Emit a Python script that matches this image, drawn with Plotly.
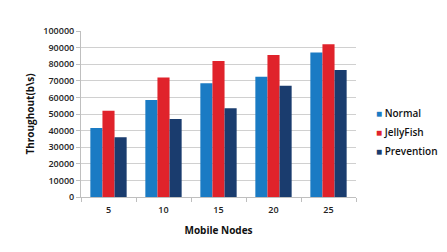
import plotly.graph_objects as go

categories = ["5", "10", "15", "20", "25"]
normal = [41500, 58500, 68500, 72500, 87000]
jellyfish = [52000, 72000, 82000, 85500, 92000]
prevention = [36000, 47000, 53500, 67000, 76500]
y_ticks = list(range(0, 100001, 10000))
y_tick_labels = [str(v) for v in y_ticks]

series = [("Normal", normal, "#1a7bc4"),
          ("JellyFish", jellyfish, "#e0232b"),
          ("Prevention", prevention, "#1a3c6e")]

fig = go.Figure()
for name, vals, col in series:
    fig.add_trace(go.Bar(x=categories, y=vals, name=name, marker_color=col,
                         marker_line_width=0, showlegend=False))

# legend drawn as annotations (small square swatch + name)
plot_l, plot_r, plot_t, plot_b = 81, 356, 31, 197
for i, (name, vals, col) in enumerate(series):
    py = 113 + i * 19
    yp = (plot_b - py) / (plot_b - plot_t)
    fig.add_annotation(xref="paper", yref="paper",
                       x=(374 - plot_l) / (plot_r - plot_l), y=yp,
                       xanchor="left", yanchor="middle", showarrow=False,
                       text=f"<span style='color:{col}'>■</span> {name}",
                       font=dict(size=10, color="#111111", weight=600))

font_family = "Open Sans, Liberation Sans, Arial, sans-serif"
fig.update_layout(
    width=447, height=252,
    margin=dict(l=81, r=91, t=31, b=55),
    paper_bgcolor="white", plot_bgcolor="white",
    barmode="group", bargap=0.34, bargroupgap=0,
    font=dict(family=font_family, size=9, color="#222222"),
    showlegend=False,
    xaxis=dict(type="category", showline=True, linecolor="#bfbfbf", linewidth=1,
               ticks="outside", tickson="boundaries", ticklen=4, tickcolor="#bfbfbf",
               tickfont=dict(size=9, color="#222222", weight=600),
               ticklabelstandoff=4,
               title=dict(text="<b>Mobile Nodes</b>", font=dict(size=10, color="#111111"),
                          standoff=12)),
    yaxis=dict(range=[0, 100000], tickvals=y_ticks, ticktext=y_tick_labels,
               showgrid=True, gridcolor="#d0d0d0",
               gridwidth=1, showline=True, linecolor="#bfbfbf", linewidth=1,
               ticks="outside", ticklen=4, tickcolor="#bfbfbf",
               tickfont=dict(size=9, color="#222222", weight=600), zeroline=False,
               title=dict(text="<b>Throughout(b\\s)</b>", font=dict(size=10, color="#111111"),
                          standoff=6)),
)

fig.write_html("out.html")
